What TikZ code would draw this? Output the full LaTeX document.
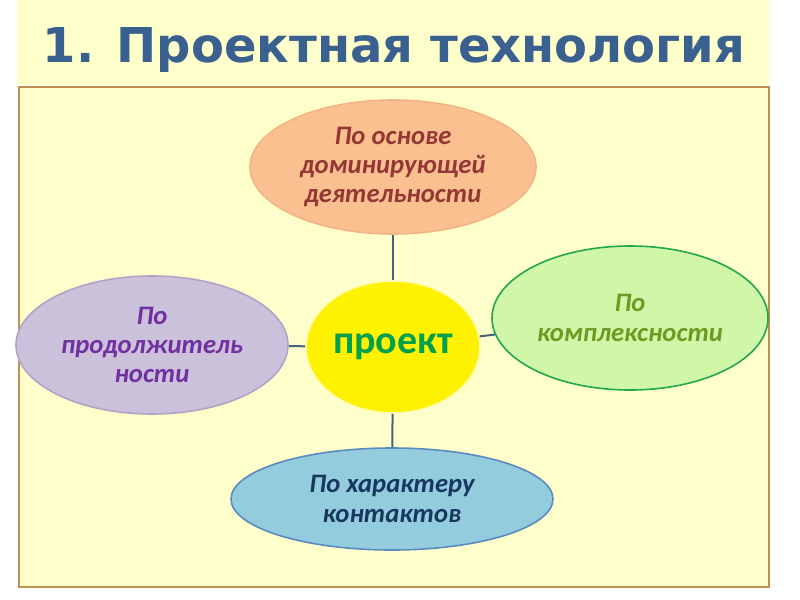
\documentclass[tikz,border=0pt]{standalone}
\usepackage{fontspec}
\usetikzlibrary{shapes.geometric}
\newfontfamily\calib{Carlito}
\newfontfamily\verd{DejaVu Sans}
\definecolor{bgyellow}{HTML}{FFFFCC}
\definecolor{framebrown}{HTML}{C09050}
\definecolor{titleblue}{HTML}{3A6090}
\definecolor{linkblue}{HTML}{466282}
\definecolor{peachfill}{HTML}{FAC090}
\definecolor{peachline}{HTML}{F2B585}
\definecolor{peachtext}{HTML}{953735}
\definecolor{projgreen}{HTML}{00A04E}
\definecolor{limefill}{HTML}{D0F7A8}
\definecolor{limeline}{HTML}{22A84A}
\definecolor{limetext}{HTML}{6E9A22}
\definecolor{lilacfill}{HTML}{CCC1DA}
\definecolor{lilacline}{HTML}{B3A2C7}
\definecolor{lilactext}{HTML}{7030A0}
\definecolor{skyfill}{HTML}{93CDDD}
\definecolor{skyline}{HTML}{5A8AC0}
\definecolor{skytext}{HTML}{17375E}
\tikzset{
  oval/.style={ellipse,inner sep=0pt,line width=1.2pt,align=center,
    font=\calib\bfseries\itshape\fontsize{20}{22}\selectfont},
  link/.style={linkblue,line width=1.5pt}
}
\begin{document}
\begin{tikzpicture}[x=0.75pt,y=-0.75pt]
  \useasboundingbox (0,0) rectangle (800,600);
  % background and frame
  \fill[white] (0,0) rectangle (800,600);
  \fill[bgyellow] (17,0) rectangle (769,85);
  \draw[framebrown,fill=bgyellow,line width=1pt] (19,87) rectangle (769,587);
  \node (title) at (394,50) {\verd\bfseries\fontsize{36}{40}\selectfont\color{titleblue}1. Проектная технология};
  % ovals
  \node[oval,fill=yellow,draw=yellow!30,minimum width=130.5pt,minimum height=99pt,
    font=\calib\bfseries\fontsize{30}{32}\selectfont,text=projgreen] (proj) at (393,347) {проект};
  \node[oval,fill=peachfill,draw=peachline,minimum width=214.5pt,minimum height=100.5pt,
    text=peachtext] (basis) at (393,167) {По основе\\доминирующей\\деятельности};
  \node[oval,fill=limefill,draw=limeline,minimum width=207pt,minimum height=108pt,
    text=limetext] (complex) at (630,318) {По\\комплексности};
  \node[oval,fill=lilacfill,draw=lilacline,minimum width=204pt,minimum height=103.5pt,
    text=lilactext] (duration) at (152,345) {По\\продолжитель\\ности};
  \node[oval,fill=skyfill,draw=skyline,minimum width=241.5pt,minimum height=76.5pt,
    text=skytext] (contact) at (392,499) {По характеру\\контактов};
  % links
  \draw[link] (basis) -- (proj);
  \draw[link] (proj) -- (complex);
  \draw[link] (proj) -- (duration);
  \draw[link] (proj) -- (contact);
\end{tikzpicture}
\end{document}
